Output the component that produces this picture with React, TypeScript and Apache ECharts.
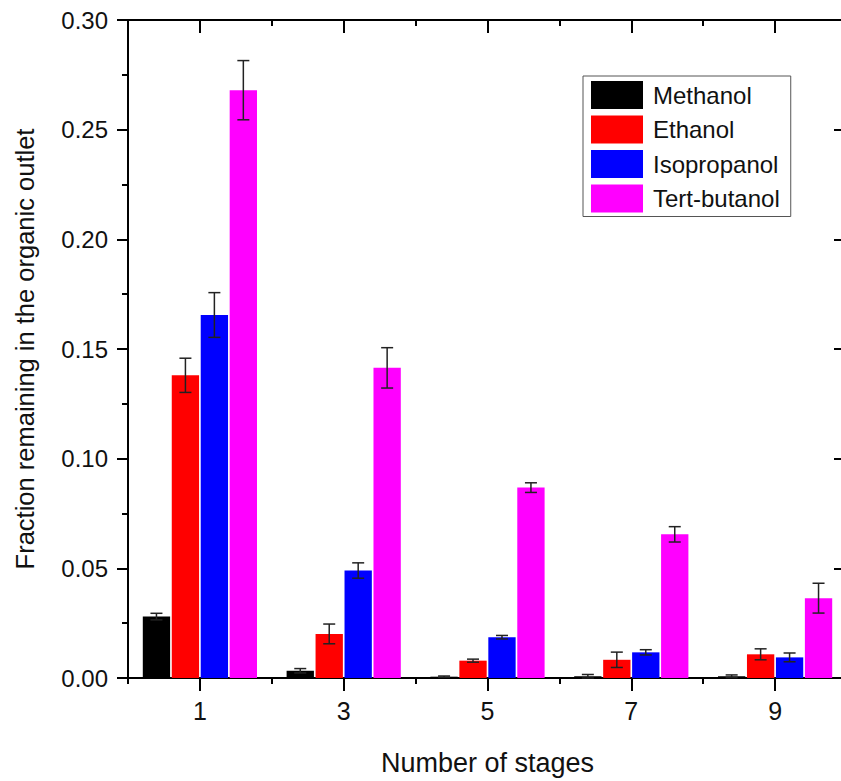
import React, { useEffect, useRef } from "react";
import * as echarts from "echarts";

const categories = ["1", "3", "5", "7", "9"];
const seriesNames = ["Methanol", "Ethanol", "Isopropanol", "Tert-butanol"];
const seriesColors = ["#000000", "#ff0000", "#0000ff", "#ff00ff"];

const methanol = [0.028, 0.0033, 0.0006, 0.0008, 0.0008];
const methanolErr = [0.0015, 0.001, 0.0003, 0.0008, 0.0006];
const ethanol = [0.138, 0.0201, 0.0079, 0.0083, 0.0108];
const ethanolErr = [0.0078, 0.0045, 0.0007, 0.0035, 0.0025];
const isopropanol = [0.1655, 0.049, 0.0186, 0.0117, 0.0094];
const isopropanolErr = [0.0102, 0.0035, 0.0008, 0.0012, 0.002];
const tertButanol = [0.268, 0.1414, 0.0868, 0.0655, 0.0364];
const tertButanolErr = [0.0135, 0.0092, 0.0022, 0.0035, 0.0068];

const values = [methanol, ethanol, isopropanol, tertButanol];
const errors = [methanolErr, ethanolErr, isopropanolErr, tertButanolErr];

const yTickValues = [0, 0.05, 0.1, 0.15, 0.2, 0.25, 0.3];

const FONT = "'Liberation Sans', Arial, sans-serif";
const BAR_FRAC = 0.19;
const BAR_GAP = 0.06;

export default function App() {
  const ref = useRef<HTMLDivElement>(null);

  useEffect(() => {
    if (!ref.current) return;
    const chart = echarts.init(ref.current, undefined, { renderer: "svg" });

    const axisLine = { show: true, lineStyle: { color: "#000", width: 2 } };

    const barSeries = seriesNames.map((name, i) => ({
      name,
      type: "bar",
      xAxisIndex: 0,
      yAxisIndex: 0,
      data: values[i],
      barWidth: `${BAR_FRAC * 100}%`,
      barGap: `${BAR_GAP * 100}%`,
      itemStyle: { color: seriesColors[i] },
      z: 2,
    }));

    const errSeries = seriesNames.map((name, i) => ({
      name: name + " error",
      type: "custom",
      xAxisIndex: 0,
      yAxisIndex: 0,
      z: 5,
      data: values[i].map((v, k) => [k, v - errors[i][k], v + errors[i][k]]),
      encode: { x: 0, y: [1, 2] },
      renderItem: (params: any, api: any) => {
        const k = api.value(0);
        const lo = api.coord([k, api.value(1)]);
        const hi = api.coord([k, api.value(2)]);
        const band = api.size([1, 0])[0];
        const bw = band * BAR_FRAC;
        const gap = bw * BAR_GAP;
        const cx = lo[0] + (i - 1.5) * (bw + gap);
        const cap = 6;
        const style = { stroke: "#222", lineWidth: 1.5 };
        return {
          type: "group",
          children: [
            { type: "line", shape: { x1: cx, y1: lo[1], x2: cx, y2: hi[1] }, style },
            { type: "line", shape: { x1: cx - cap, y1: hi[1], x2: cx + cap, y2: hi[1] }, style },
            { type: "line", shape: { x1: cx - cap, y1: lo[1], x2: cx + cap, y2: lo[1] }, style },
          ],
        };
      },
    }));

    const option: any = {
      animation: false,
      backgroundColor: "#ffffff",
      textStyle: { fontFamily: FONT },
      grid: { left: 128, right: 2, top: 20, bottom: 101, containLabel: false },
      legend: {
        data: seriesNames,
        orient: "vertical",
        left: 583,
        top: 76,
        itemWidth: 52,
        itemHeight: 28,
        itemGap: 6.5,
        padding: [5, 11, 4, 8],
        borderColor: "#555",
        borderWidth: 1,
        backgroundColor: "#fff",
        icon: "rect",
        textStyle: { fontSize: 24, color: "#111", fontFamily: FONT, padding: [0, 0, 0, 5] },
      },
      xAxis: [
        {
          type: "category",
          data: categories,
          position: "bottom",
          boundaryGap: true,
          axisLine,
          axisTick: { show: true, alignWithLabel: true, length: 13, lineStyle: { color: "#000", width: 2 } },
          axisLabel: { fontSize: 25, color: "#111", margin: 20, fontFamily: FONT },
          splitLine: { show: false },
          name: "Number of stages",
          nameLocation: "middle",
          nameGap: 71,
          nameTextStyle: { fontSize: 27, color: "#111", fontFamily: FONT },
        },
        {
          type: "category",
          data: categories,
          position: "bottom",
          boundaryGap: true,
          axisLine: { show: false },
          axisTick: { show: true, alignWithLabel: false, length: 6, lineStyle: { color: "#000", width: 2 } },
          axisLabel: { show: false },
          splitLine: { show: false },
        },
        {
          type: "category",
          data: categories,
          position: "top",
          boundaryGap: true,
          axisLine,
          axisTick: { show: true, inside: true, alignWithLabel: true, length: 13, lineStyle: { color: "#000", width: 2 } },
          axisLabel: { show: false },
          splitLine: { show: false },
        },
        {
          type: "category",
          data: categories,
          position: "top",
          boundaryGap: true,
          axisLine: { show: false },
          axisTick: { show: true, inside: true, alignWithLabel: false, length: 6, lineStyle: { color: "#000", width: 2 } },
          axisLabel: { show: false },
          splitLine: { show: false },
        },
      ],
      yAxis: [
        {
          type: "value",
          position: "left",
          min: yTickValues[0],
          max: yTickValues[yTickValues.length - 1],
          interval: 0.05,
          axisLine,
          axisTick: { show: true, length: 11, lineStyle: { color: "#000", width: 2 } },
          minorTick: { show: true, splitNumber: 2, length: 6, lineStyle: { color: "#000", width: 2 } },
          splitLine: { show: false },
          minorSplitLine: { show: false },
          axisLabel: {
            fontSize: 24,
            color: "#111",
            margin: 20,
            fontFamily: FONT,
            formatter: (v: number) => v.toFixed(2),
          },
          name: "Fraction remaining in the organic outlet",
          nameLocation: "middle",
          nameRotate: 90,
          nameGap: 90,
          nameTextStyle: { fontSize: 25.5, color: "#111", fontFamily: FONT },
        },
        {
          type: "value",
          position: "right",
          min: yTickValues[0],
          max: yTickValues[yTickValues.length - 1],
          interval: 0.05,
          axisLine,
          axisTick: { show: true, inside: true, length: 13, lineStyle: { color: "#000", width: 2 } },
          minorTick: { show: true, splitNumber: 2, length: 6, lineStyle: { color: "#000", width: 2 } },
          splitLine: { show: false },
          minorSplitLine: { show: false },
          axisLabel: { show: false },
        },
      ],
      series: [...barSeries, ...errSeries],
    };

    chart.setOption(option);
    return () => chart.dispose();
  }, []);

  return (
    <div
      style={{
        position: "absolute",
        left: 0,
        top: 0,
        width: 841,
        height: 781,
        overflow: "hidden",
        background: "#fff",
      }}
    >
      <div ref={ref} style={{ width: 849, height: 781 }} />
    </div>
  );
}
